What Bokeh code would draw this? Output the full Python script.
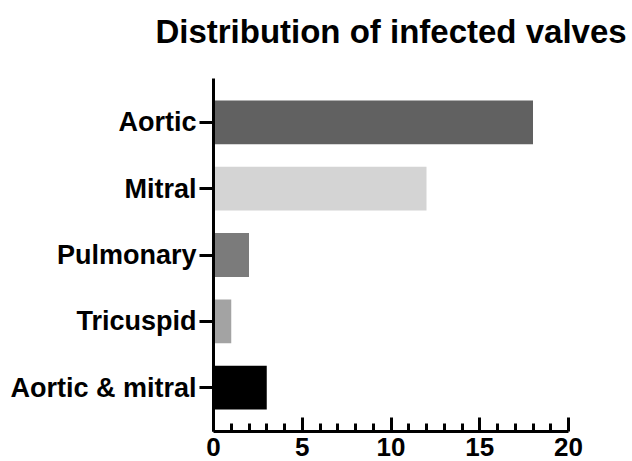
from bokeh.plotting import figure
from bokeh.models import ColumnDataSource, FactorRange, Range1d, FixedTicker
from bokeh.embed import file_html
from bokeh.resources import INLINE

# ---- data ----
categories = ["Aortic", "Mitral", "Pulmonary", "Tricuspid", "Aortic & mitral"]
counts = [18, 12, 2, 1, 3]
bar_colors = ["#616161", "#d4d4d4", "#7b7b7b", "#a3a3a3", "#000000"]
x_ticks = [0, 5, 10, 15, 20]
title_text = "Distribution of infected valves"

FONT = "Liberation Sans"

src = ColumnDataSource(dict(cat=categories, val=counts, color=bar_colors))

p = figure(
    width=632, height=461,
    y_range=FactorRange(factors=list(reversed(categories)),
                        range_padding=0.16, range_padding_units="absolute"),
    x_range=Range1d(0, 20),
    output_backend="svg", toolbar_location=None,
    min_border_left=213, min_border_right=64,
    min_border_top=78, min_border_bottom=30,
)

p.hbar(y="cat", right="val", left=0, height=0.66, color="color",
       line_color=None, source=src)

# title (a trailing empty line keeps the gap between title and plot area)
p.title.text = title_text + "\n"
p.title.text_font = FONT
p.title.text_font_size = "33px"
p.title.text_font_style = "bold"
p.title.text_line_height = 0.78
p.title.align = "center"
p.title.standoff = 0
p.title.text_color = "black"

p.outline_line_color = None
p.xgrid.visible = False
p.ygrid.visible = False
p.background_fill_color = "white"
p.border_fill_color = "white"

# x axis
xa = p.xaxis[0]
minor = [v for v in range(0, 21) if v not in x_ticks]
xa.ticker = FixedTicker(ticks=x_ticks, minor_ticks=minor)
xa.axis_line_width = 3
xa.axis_line_color = "black"
xa.major_tick_line_width = 3
xa.major_tick_line_color = "black"
xa.major_tick_in = 14
xa.major_tick_out = 0
xa.minor_tick_line_width = 3
xa.minor_tick_line_color = "black"
xa.minor_tick_in = 8
xa.minor_tick_out = 0
xa.major_label_standoff = 6
xa.major_label_text_font = FONT
xa.major_label_text_font_size = "26px"
xa.major_label_text_font_style = "bold"
xa.major_label_text_color = "black"

# y axis
ya = p.yaxis[0]
ya.axis_line_width = 3
ya.axis_line_color = "black"
ya.major_tick_line_width = 3
ya.major_tick_line_color = "black"
ya.major_tick_in = 0
ya.major_tick_out = 14
ya.minor_tick_line_color = None
ya.major_label_standoff = 3
ya.major_label_text_font = FONT
ya.major_label_text_font_size = "27px"
ya.major_label_text_font_style = "bold"
ya.major_label_text_color = "black"

open("out.html", "w").write(file_html(p, INLINE))
